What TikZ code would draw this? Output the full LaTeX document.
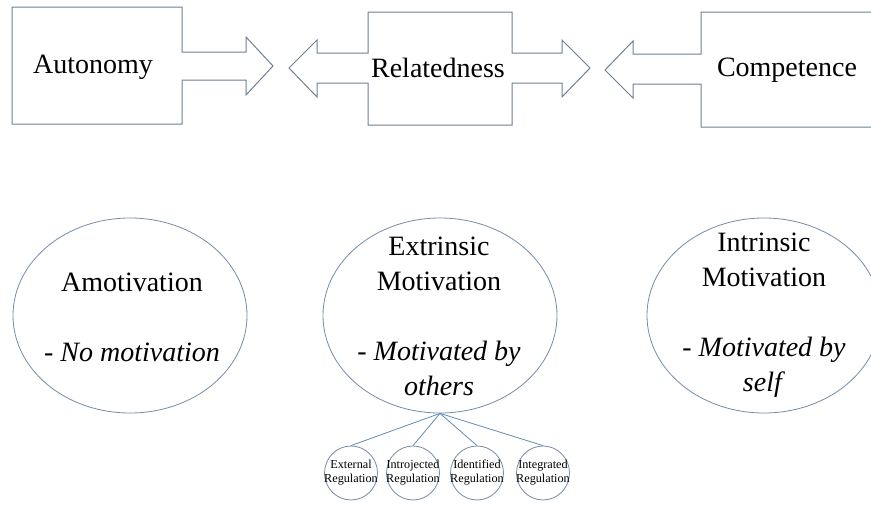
\documentclass[tikz,border=0pt]{standalone}
\usepackage{fontspec}
\setmainfont{Liberation Serif}
\usetikzlibrary{shapes.geometric}
\definecolor{boxline}{RGB}{112,128,150}
\definecolor{ellline}{RGB}{120,140,165}
\definecolor{conline}{RGB}{100,140,180}
\tikzset{
  callout/.style={draw=boxline, line width=1pt, line join=miter},
  bigtxt/.style={font=\fontsize{28}{35}\selectfont, align=center, inner sep=0pt},
  motell/.style={draw=ellline, line width=0.8pt, ellipse, minimum width=234pt, minimum height=195pt, inner sep=0pt},
  regcirc/.style={draw=ellline, line width=0.8pt, ellipse, minimum width=53pt, minimum height=54pt, inner sep=0pt},
  regtxt/.style={font=\fontsize{12.2}{14}\selectfont, align=center, inner sep=0pt},
  con/.style={draw=conline, line width=0.8pt}
}
\begin{document}
\begin{tikzpicture}[x=1pt, y=-1pt]
\useasboundingbox (0,0) rectangle (871,506);
\fill[white] (0,0) rectangle (871,506);
\clip (0,0) rectangle (871,506);
% callout shapes
\draw[callout] (12,7) -- (182,7) -- (182,52) -- (246,52) -- (246,37) -- (273,66)
  -- (246,95) -- (246,80) -- (182,80) -- (182,124) -- (12,124) -- cycle;
\draw[callout] (368,12) -- (512,12) -- (512,53) -- (562,53) -- (562,40) -- (590,68)
  -- (562,97) -- (562,83) -- (512,83) -- (512,125) -- (368,125) -- (368,83)
  -- (317,83) -- (317,97) -- (289,68) -- (317,40) -- (317,53) -- (368,53) -- cycle;
\draw[callout] (900,12) -- (701,12) -- (701,54) -- (633,54) -- (633,41) -- (605,70)
  -- (633,98) -- (633,84) -- (701,84) -- (701,127) -- (900,127);
\node[bigtxt] (aut) at (93,67) {Autonomy};
\node[bigtxt] (rel) at (438,68) {Relatedness};
\node[bigtxt] (comp) at (787,70) {Competence};
% motivation ellipses
\node[motell] (amo) at (130,315.5) {};
\node[motell] (ext) at (440,315.5) {};
\node[motell] (intr) at (764,315.5) {};
\node[bigtxt] (amot) at (132,317) {Amotivation\\\mbox{}\\- \textit{No motivation}};
\node[bigtxt] (extt) at (439,316) {Extrinsic\\Motivation\\\mbox{}\\- \textit{Motivated by}\\\textit{others}};
\node[bigtxt] (intt) at (764,315.5) {Intrinsic\\Motivation\\\mbox{}\\- \textit{Motivated by}\\\textit{self}};
% regulation circles
\node[regcirc] (r1) at (351,473) {};
\node[regcirc] (r2) at (413,473) {};
\node[regcirc] (r3) at (477,473) {};
\node[regcirc] (r4) at (543,473) {};
\node[regtxt] at (r1) {External\\Regulation};
\node[regtxt] at (r2) {Introjected\\Regulation};
\node[regtxt] at (r3) {Identified\\Regulation};
\node[regtxt] at (r4) {Integrated\\Regulation};
\coordinate (hub) at (ext.south);
\draw[con] (hub) -- (r1.north);
\draw[con] (hub) -- (r2.north);
\draw[con] (hub) -- (r3.north);
\draw[con] (hub) -- (r4.north);
\end{tikzpicture}
\end{document}
